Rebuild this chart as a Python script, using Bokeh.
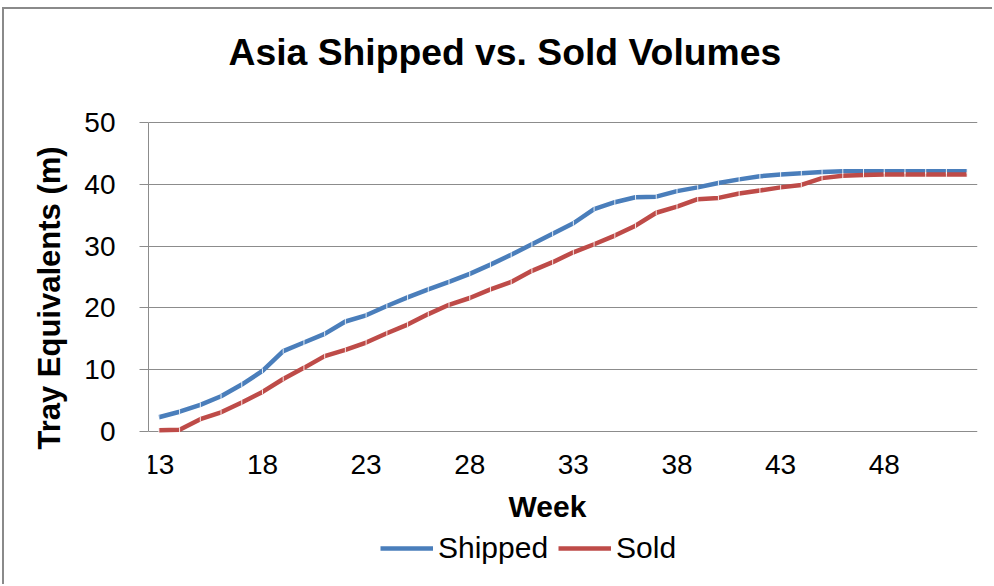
import math
from bokeh.plotting import figure
from bokeh.models import (Range1d, FixedTicker, Legend, LegendItem, Label)
from bokeh.embed import file_html
from bokeh.resources import INLINE

weeks = [13, 14, 15, 16, 17, 18, 19, 20, 21, 22, 23, 24, 25, 26, 27, 28, 29, 30,
         31, 32, 33, 34, 35, 36, 37, 38, 39, 40, 41, 42, 43, 44, 45, 46, 47, 48,
         49, 50, 51, 52]
shipped = [2.3, 3.2, 4.3, 5.7, 7.6, 9.8, 13.0, 14.4, 15.8, 17.8, 18.8, 20.3, 21.7,
           23.0, 24.2, 25.5, 27.0, 28.6, 30.3, 32.0, 33.7, 36.0, 37.1, 37.9, 38.0,
           38.9, 39.5, 40.2, 40.8, 41.3, 41.6, 41.8, 42.0, 42.1, 42.1, 42.1, 42.1,
           42.1, 42.1, 42.1]
sold = [0.2, 0.3, 2.0, 3.1, 4.7, 6.4, 8.5, 10.3, 12.2, 13.2, 14.4, 15.9, 17.3,
        19.0, 20.5, 21.6, 23.0, 24.2, 26.0, 27.4, 29.0, 30.3, 31.7, 33.3, 35.4,
        36.4, 37.6, 37.8, 38.5, 39.0, 39.5, 39.9, 41.0, 41.4, 41.5, 41.6, 41.6,
        41.6, 41.6, 41.6]
x_ticks = [13, 18, 23, 28, 33, 38, 43, 48]
y_ticks = [0, 10, 20, 30, 40, 50]
title_text = "Asia Shipped vs. Sold Volumes"

FONT = "Liberation Sans"
GRID = "#8c8c8c"
BLUE = "#4A7EBB"
RED = "#BE4B48"

# canvas 990x577; the plotting frame fills everything right of the y axis,
# the value range is padded so that 0..50 sits where the reference draws it
PX_PER_UNIT = 309 / 50.0
y_lo = -155 / PX_PER_UNIT
y_hi = 50 + 113 / PX_PER_UNIT

p = figure(width=990, height=577, output_backend="svg", toolbar_location=None,
           x_range=Range1d(12.5, 52.5), y_range=Range1d(y_lo, y_hi),
           min_border_left=144, min_border_right=17, min_border_top=0,
           min_border_bottom=0)
p.styles = {"border-top": "2px solid #8a8a8a", "border-left": "2px solid #8a8a8a",
            "margin-top": "7px", "margin-left": "2px"}
p.outline_line_color = None

# axes
p.xaxis.ticker = FixedTicker(ticks=x_ticks)
p.yaxis.ticker = FixedTicker(ticks=y_ticks)
for ax in (p.xaxis, p.yaxis):
    ax.axis_line_color = GRID
    ax.axis_line_width = 1
    ax.major_tick_line_color = GRID
    ax.minor_tick_line_color = None
    ax.major_tick_in = 0
    ax.major_label_text_font = FONT
    ax.major_label_text_font_size = "28px"
    ax.major_label_text_color = "black"
    ax.axis_label_text_font = FONT
    ax.axis_label_text_font_style = "bold"
    ax.axis_label_text_color = "black"

p.xaxis.fixed_location = 0
p.xaxis.bounds = (12.5, 51.0)
p.xaxis.axis_line_color = None
p.xaxis.major_tick_out = 0
p.xaxis.major_label_standoff = 23
p.xaxis.axis_label = "Week"
p.xaxis.axis_label_text_font_size = "30px"
p.xaxis.axis_label_standoff = 13

p.yaxis.bounds = (0, 50)
p.yaxis.major_tick_out = 9
p.yaxis.major_label_standoff = 24
p.yaxis.axis_label = "Tray Equivalents (m)"
p.yaxis.axis_label_text_font_size = "31px"
p.yaxis.axis_label_standoff = 14

p.xgrid.grid_line_color = None
p.ygrid.grid_line_color = GRID
p.ygrid.grid_line_width = 1

p.add_layout(Label(x=80, y=535, x_units="screen", y_units="screen",
                   text=title_text, text_font=FONT, text_font_size="37.3px",
                   text_font_style="bold", text_color="black",
                   text_align="left", text_baseline="alphabetic"))

r_ship = p.line(weeks, shipped, line_color=BLUE, line_width=4.5)
r_sold = p.line(weeks, sold, line_color=RED, line_width=4.5)
for ys in (shipped, sold):
    p.scatter(weeks, ys, marker="dash", angle=math.pi / 2, size=5,
              line_color="white", line_width=1, line_alpha=0.85)

legend = Legend(items=[LegendItem(label="Shipped", renderers=[r_ship]),
                       LegendItem(label="Sold", renderers=[r_sold])],
                orientation="horizontal", location=(232, 21),
                border_line_color=None, background_fill_alpha=0,
                padding=0, margin=0, spacing=10, label_standoff=5,
                glyph_width=53, glyph_height=30, label_height=30,
                label_text_font=FONT, label_text_font_size="30px",
                label_text_color="black")
p.add_layout(legend, "center")

open("out.html", "w").write(file_html(p, INLINE))
